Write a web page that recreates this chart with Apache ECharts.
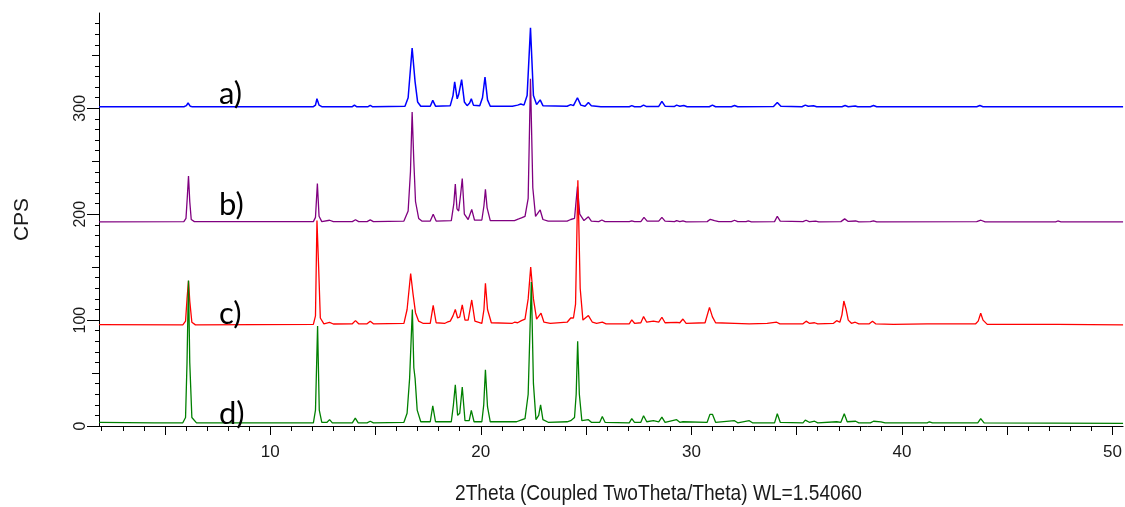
<!DOCTYPE html>
<html>
<head>
<meta charset="utf-8">
<script src="https://cdn.jsdelivr.net/npm/echarts@6/dist/echarts.min.js"></script>
<style>
  html, body { margin: 0; padding: 0; background: #fff; }
  #main { width: 1125px; height: 507px; }
</style>
</head>
<body>
<div id="main"></div>
<script>
// 坐标轴范围
const xMin = 1.87
const xMax = 50.5
const yMax = 390

// 刻度
const xMinorTicks = [2, 3, 4, 5, 6, 7, 8, 9, 10, 11, 12, 13, 14, 15, 16, 17, 18, 19, 20, 21, 22, 23, 24, 25, 26,
  27, 28, 29, 30, 31, 32, 33, 34, 35, 36, 37, 38, 39, 40, 41, 42, 43, 44, 45, 46, 47, 48, 49, 50]
const xMajorTicks = [5, 10, 15, 20, 25, 30, 35, 40, 45, 50]
const xTickLabels = [10, 20, 30, 40, 50]
const yMajorTicks = [0, 100, 200, 300]
const yMidTicks = [50, 150, 250, 350]

const curveNames = ['a)', 'b)', 'c)', 'd)']

// a) 蓝
const curveA = [
  [1.87, 301.5], [5.9, 301.5], [6.02, 302.5], [6.1, 305], [6.2, 302], [6.3, 301.5],
  [12.05, 301.5], [12.15, 303], [12.22, 309], [12.32, 303], [12.45, 301.5],
  [13.9, 301.5], [14.0, 303], [14.1, 301.5], [14.65, 301.5], [14.75, 302.8], [14.85, 301.5],
  [16.4, 302], [16.55, 310], [16.74, 357], [16.88, 325], [17.0, 306], [17.15, 302],
  [17.6, 302], [17.72, 307.5], [17.85, 302],
  [18.55, 302.5], [18.68, 312], [18.76, 325], [18.88, 309], [18.95, 313], [19.09, 327], [19.22, 306],
  [19.35, 302.5], [19.47, 305], [19.55, 309], [19.65, 303], [19.95, 302.5], [20.08, 310], [20.2, 329.5],
  [20.32, 308], [20.45, 302],
  [21.5, 302], [21.75, 303], [21.9, 304], [22.05, 303], [22.2, 312], [22.36, 376], [22.5, 312],
  [22.65, 303.5], [22.82, 308], [22.95, 302.5],
  [24.1, 302], [24.27, 303.5], [24.4, 302.5], [24.59, 310], [24.75, 303], [24.95, 302], [25.11, 305.4],
  [25.25, 302.5], [25.7, 301.5], [25.77, 302.5], [25.9, 301.5],
  [27.05, 301.5], [27.17, 302.5], [27.3, 301.5], [27.6, 301.5], [27.73, 303], [27.85, 301.8],
  [28.45, 301.8], [28.6, 306.5], [28.75, 302],
  [29.2, 301.8], [29.3, 303], [29.45, 302], [29.64, 302.7], [29.8, 301.5],
  [30.85, 301.5], [31.0, 303], [31.15, 301.5], [31.9, 301.5], [32.05, 302.7], [32.2, 301.5],
  [33.9, 301.8], [34.08, 305.5], [34.25, 302], [35.25, 301.5], [35.41, 303], [35.55, 302], [35.8, 302.4], [35.95, 301.5],
  [37.15, 301.5], [37.3, 302.6], [37.45, 301.5], [37.78, 302.2], [37.9, 301.5],
  [38.5, 301.5], [38.65, 302.6], [38.8, 301.5],
  [43.55, 301.5], [43.7, 302.6], [43.85, 301.5],
  [50.5, 301.5]
]

// b) 紫
const curveB = [
  [1.87, 192.8], [5.9, 193], [6.0, 196], [6.06, 215], [6.12, 236], [6.18, 212], [6.25, 195], [6.4, 193],
  [12.05, 193], [12.15, 197], [12.24, 229], [12.32, 198], [12.45, 193], [12.82, 194.3], [13.0, 193],
  [13.9, 193], [14.05, 194.8], [14.2, 193], [14.6, 193], [14.75, 194.6], [14.9, 193],
  [16.35, 193.5], [16.55, 203], [16.66, 240], [16.74, 296.5], [16.82, 250], [16.9, 212], [17.05, 196], [17.2, 193.5],
  [17.6, 193.5], [17.74, 200], [17.88, 193.5],
  [18.6, 194], [18.72, 210], [18.79, 228.4], [18.87, 205], [18.95, 203], [19.05, 220], [19.12, 233.7],
  [19.22, 200], [19.4, 195], [19.57, 204.5], [19.7, 194.5],
  [20.05, 194.5], [20.15, 208], [20.22, 223.4], [20.3, 206], [20.45, 194],
  [21.6, 194], [21.8, 195.5], [21.93, 196.5], [22.1, 198], [22.25, 215], [22.36, 328], [22.47, 225],
  [22.6, 198], [22.82, 204], [22.95, 195], [23.2, 193.5],
  [24.1, 193.5], [24.27, 195], [24.45, 196], [24.59, 226], [24.7, 200], [24.9, 194], [25.11, 197.5],
  [25.25, 193.5], [25.6, 193], [25.75, 194.5], [25.9, 193],
  [27.05, 193], [27.17, 193.8], [27.3, 193], [27.6, 193], [27.75, 197], [27.9, 193.5],
  [28.45, 193.5], [28.6, 197], [28.75, 193.5],
  [29.2, 193], [29.3, 194], [29.45, 193], [29.6, 193.8], [29.75, 192.8],
  [30.75, 193], [30.9, 195.2], [31.1, 194], [31.3, 193],
  [31.9, 193], [32.05, 194.3], [32.2, 193], [32.6, 193], [32.7, 193.6], [32.85, 192.8],
  [33.95, 193], [34.08, 198], [34.22, 193.5], [35.3, 193], [35.45, 194.3], [35.6, 193], [35.9, 193.5], [36.05, 192.8],
  [37.1, 193], [37.28, 195.6], [37.45, 193.2], [37.8, 193.6], [37.95, 192.8],
  [38.5, 193], [38.65, 193.8], [38.8, 192.8],
  [43.55, 193], [43.75, 194.3], [43.95, 192.8], [47.3, 192.8], [47.4, 193.6], [47.55, 192.8],
  [50.5, 192.8]
]

// c) 红
const curveC = [
  [1.87, 95.8], [5.85, 95.5], [5.98, 99], [6.05, 120], [6.12, 137], [6.18, 118], [6.28, 98], [6.45, 95.5],
  [12.05, 96], [12.15, 104], [12.22, 194], [12.3, 150], [12.38, 102], [12.55, 96.5], [12.82, 97.8], [13.0, 96.3],
  [13.9, 96.5], [14.05, 99.5], [14.2, 96.5], [14.6, 96.5], [14.75, 99], [14.9, 96.5],
  [16.35, 97], [16.5, 110], [16.67, 144], [16.78, 125], [16.9, 107], [17.05, 99], [17.25, 97],
  [17.6, 97], [17.74, 114], [17.88, 97.5],
  [18.3, 97], [18.4, 98], [18.55, 99], [18.68, 104], [18.79, 110], [18.9, 102], [19.0, 103], [19.12, 114.3],
  [19.25, 100], [19.4, 100], [19.57, 119], [19.72, 99],
  [20.05, 97], [20.15, 110], [20.22, 134.8], [20.32, 110], [20.5, 97.5],
  [21.5, 97], [21.6, 98], [21.75, 97.5], [21.93, 99.5], [22.1, 101], [22.25, 120], [22.37, 150], [22.5, 120],
  [22.65, 101], [22.86, 106.5], [23.0, 98], [23.3, 97],
  [24.1, 98], [24.27, 102], [24.4, 102], [24.5, 115], [24.61, 232], [24.72, 130], [24.85, 100], [25.11, 104.3],
  [25.3, 98], [25.5, 97], [25.77, 98], [25.95, 96.5],
  [27.05, 96.5], [27.17, 100.2], [27.3, 97], [27.6, 97.5], [27.73, 103.3], [27.88, 98], [28.2, 99], [28.45, 98],
  [28.6, 102.7], [28.75, 97.5], [29.3, 97.8], [29.45, 97.5], [29.6, 101], [29.75, 97],
  [30.65, 97.5], [30.86, 112], [31.0, 103], [31.15, 97.5], [32.05, 97], [32.75, 96.5], [33.6, 97], [34.05, 98], [34.2, 96.5],
  [35.3, 96.5], [35.45, 99], [35.6, 97], [35.85, 97.5], [36.0, 96.5], [36.75, 97], [36.9, 99.5], [37.05, 98],
  [37.15, 105], [37.24, 118], [37.35, 110], [37.45, 100], [37.6, 97], [37.78, 98], [37.95, 96.5],
  [38.45, 96.5], [38.6, 99], [38.75, 96.5], [39.6, 96], [41.2, 96.5],
  [43.5, 96.5], [43.62, 99], [43.74, 106.5], [43.85, 100], [44.05, 96], [47.4, 96], [50.5, 95.5]
]

// d) 绿
const curveD = [
  [1.87, 3.5], [4.5, 3], [5.85, 3], [5.98, 8], [6.05, 60], [6.12, 137.5], [6.18, 60], [6.28, 8], [6.5, 3],
  [12.05, 3], [12.15, 15], [12.25, 94.5], [12.33, 15], [12.45, 3.5], [12.7, 3.5], [12.82, 6], [12.95, 3],
  [13.9, 3], [14.04, 7.5], [14.18, 3], [14.6, 3], [14.75, 4.5], [14.9, 3],
  [16.35, 3.5], [16.5, 12], [16.62, 45], [16.75, 110], [16.82, 55], [16.88, 45], [16.98, 15], [17.15, 4],
  [17.6, 4], [17.72, 19], [17.85, 4],
  [18.6, 4], [18.7, 20], [18.79, 39], [18.9, 10], [19.0, 12], [19.12, 36.7], [19.25, 5], [19.45, 5],
  [19.55, 14.7], [19.68, 4],
  [20.05, 4], [20.14, 20], [20.22, 53], [20.32, 18], [20.45, 4],
  [21.7, 4], [21.9, 5.5], [22.1, 7], [22.25, 30], [22.4, 136], [22.5, 40], [22.62, 6], [22.75, 10], [22.84, 20],
  [22.95, 6], [23.2, 3.5],
  [24.1, 4], [24.27, 5], [24.45, 8], [24.53, 30], [24.6, 80], [24.68, 30], [24.8, 5], [25.11, 6], [25.25, 3.5],
  [25.65, 3.5], [25.77, 9], [25.9, 3.5],
  [27.05, 3], [27.17, 6.9], [27.3, 3.5], [27.6, 3.5], [27.73, 9.7], [27.88, 4], [28.2, 5], [28.45, 4], [28.6, 8.4],
  [28.75, 3.5], [29.3, 6], [29.45, 3.5], [29.6, 4],
  [30.75, 3.5], [30.88, 11], [31.0, 11], [31.15, 3.5], [32.05, 5], [32.2, 3], [32.75, 5], [32.9, 3],
  [33.95, 3], [34.08, 11.6], [34.22, 3.5], [35.3, 3], [35.41, 5.5], [35.6, 3.5], [35.85, 4.5], [36.0, 3],
  [36.9, 4], [37.1, 3.5], [37.26, 11.6], [37.4, 4], [37.8, 4.5], [37.95, 3],
  [38.5, 3], [38.65, 4.5], [39.0, 3.8], [39.2, 3], [41.2, 3], [41.3, 4], [41.45, 3],
  [43.6, 3], [43.74, 6.9], [43.9, 3], [50.5, 2.5]
]

const curves = [curveA, curveB, curveC, curveD]
const colors = ['#0000ff', '#800080', '#ff0000', '#008000']
const labelY = [94, 205, 314, 414]

const axisFont = '"Liberation Sans", Arial, sans-serif'

var chart = echarts.init(document.getElementById('main'), null, { renderer: 'canvas' })

var option = {
  animation: false,
  backgroundColor: '#fff',
  grid: { left: 99, right: 0, top: 13, bottom: 81 },
  xAxis: [{
    type: 'value', min: xMin, max: xMax,
    splitLine: { show: false },
    axisLine: { onZero: false, lineStyle: { color: '#000', width: 1 } },
    axisTick: { customValues: xMinorTicks, length: 5, lineStyle: { color: '#000' } },
    axisLabel: { show: false }
  }, {
    type: 'value', min: xMin, max: xMax, position: 'bottom',
    splitLine: { show: false },
    axisLine: { show: false, onZero: false },
    axisTick: { customValues: xMajorTicks, length: 9, lineStyle: { color: '#000' } },
    axisLabel: {
      customValues: xTickLabels, margin: 18, color: '#1a1a1a',
      fontSize: 17, fontFamily: axisFont
    }
  }],
  yAxis: [{
    type: 'value', min: 0, max: yMax, interval: 100, position: 'left',
    name: 'CPS', nameLocation: 'middle', nameRotate: 90, nameGap: 66,
    nameTextStyle: { fontSize: 21, fontFamily: axisFont, color: '#1a1a1a' },
    splitLine: { show: false },
    axisLine: { show: true, onZero: false, lineStyle: { color: '#000', width: 1 } },
    axisTick: { show: true, customValues: yMajorTicks, length: 12, lineStyle: { color: '#000' } },
    minorTick: { show: true, splitNumber: 10, length: 4, lineStyle: { color: '#000' } },
    axisLabel: {
      customValues: yMajorTicks, rotate: 90, margin: 10, color: '#1a1a1a',
      fontSize: 16, fontFamily: axisFont
    }
  }, {
    type: 'value', min: 0, max: yMax, position: 'left',
    splitLine: { show: false },
    axisLine: { show: false, onZero: false },
    axisTick: { show: true, customValues: yMidTicks, length: 7, lineStyle: { color: '#000' } },
    axisLabel: { show: false }
  }],
  graphic: curveNames.map((t, i) => ({
    type: 'text', x: 219, y: labelY[i], z: 100,
    style: { text: t, font: '31px Lato, "Open Sans", sans-serif', fill: '#000', verticalAlign: 'middle' }
  })).concat([{
    type: 'text', x: 455, y: 494, z: 100, scaleX: 0.87,
    style: {
      text: '2Theta (Coupled TwoTheta/Theta) WL=1.54060',
      font: '22px "Liberation Sans", Arial, sans-serif', fill: '#1a1a1a', verticalAlign: 'middle'
    }
  }]),
  series: curves.map((d, i) => ({
    name: curveNames[i],
    type: 'line',
    xAxisIndex: 0,
    yAxisIndex: 0,
    data: d,
    showSymbol: false,
    symbol: 'none',
    z: 2 + i,
    lineStyle: { color: colors[i], width: i === 0 ? 1.5 : 1.3 }
  }))
}

chart.setOption(option)
</script>
</body>
</html>
